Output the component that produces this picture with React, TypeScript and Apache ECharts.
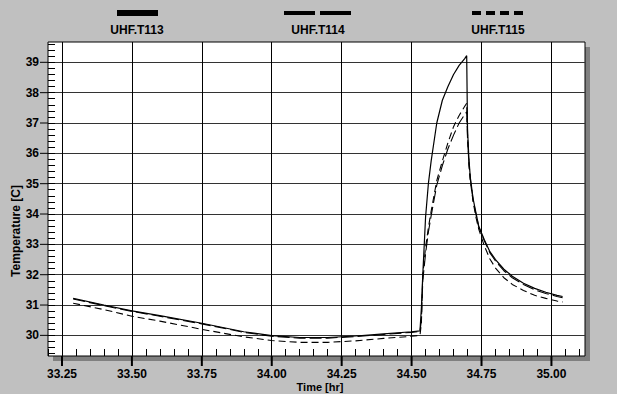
import React, { useEffect, useRef } from "react";
import * as echarts from "echarts";

const times = [33.29, 33.40, 33.50, 33.60, 33.75, 33.90, 34.00, 34.10, 34.20, 34.30, 34.40, 34.50, 34.53, 34.535, 34.54, 34.55, 34.56, 34.57, 34.59, 34.61, 34.63, 34.65, 34.67, 34.69, 34.697, 34.70, 34.705, 34.71, 34.72, 34.73, 34.74, 34.76, 34.78, 34.80, 34.83, 34.86, 34.90, 34.94, 34.98, 35.02, 35.04];
const t113 = [31.22, 31.00, 30.81, 30.65, 30.40, 30.12, 29.99, 29.93, 29.93, 29.98, 30.05, 30.12, 30.15, 30.90, 32.00, 33.90, 35.00, 35.75, 37.00, 37.75, 38.20, 38.60, 38.90, 39.12, 39.22, 36.80, 35.80, 35.20, 34.50, 34.05, 33.60, 33.15, 32.76, 32.50, 32.18, 31.95, 31.72, 31.55, 31.42, 31.32, 31.28];
const t114 = [31.20, 30.98, 30.79, 30.63, 30.38, 30.10, 29.97, 29.91, 29.91, 29.96, 30.03, 30.10, 30.13, 30.50, 31.80, 32.70, 33.40, 33.95, 34.95, 35.60, 36.15, 36.60, 37.00, 37.28, 37.37, 36.50, 35.70, 35.15, 34.45, 34.00, 33.58, 33.12, 32.72, 32.45, 32.13, 31.90, 31.68, 31.50, 31.38, 31.28, 31.24];
const t115 = [31.06, 30.85, 30.63, 30.47, 30.20, 29.95, 29.83, 29.77, 29.77, 29.82, 29.90, 29.97, 30.00, 30.40, 32.00, 32.90, 33.55, 34.10, 35.10, 35.75, 36.35, 36.88, 37.25, 37.55, 37.65, 36.60, 35.60, 35.10, 34.40, 33.90, 33.50, 32.95, 32.52, 32.22, 31.90, 31.68, 31.48, 31.32, 31.22, 31.13, 31.10];

const seriesNames = ["UHF.T113", "UHF.T114", "UHF.T115"];
const xMajorTicks = [33.25, 33.5, 33.75, 34.0, 34.25, 34.5, 34.75, 35.0];
const yMajorTicks = [30, 31, 32, 33, 34, 35, 36, 37, 38, 39];
const xMinorTicks: number[] = [];
for (let i = 0; i <= 38; i++) xMinorTicks.push(+(33.2 + i * 0.05).toFixed(2));
const yMinorTicks: number[] = [];
for (let i = 0; i <= 51; i++) yMinorTicks.push(+(29.4 + i * 0.2).toFixed(1));

const X_MIN = 33.2, X_MAX = 35.12, Y_MIN = 29.32, Y_MAX = 39.67;
const GRID = { left: 48, top: 42, right: 32, bottom: 38 };
const W = 617, H = 394;
const FONT = "'Liberation Sans', Arial, sans-serif";

export default function App() {
  const ref = useRef<HTMLDivElement>(null);
  useEffect(() => {
    document.body.style.margin = "0";
    const chart = echarts.init(ref.current!, null, { renderer: "svg" });
    const mk = (arr: number[]) => times.map((t, i) => [t, arr[i]]);
    const labelStyle = { color: "#000", fontFamily: FONT, fontWeight: "bold" as const, fontSize: 12 };
    const gridW = W - GRID.left - GRID.right;
    const gridH = H - GRID.top - GRID.bottom;
    chart.setOption({
      animation: false,
      backgroundColor: "#c0c0c0",
      grid: { show: true, ...GRID, backgroundColor: "#fff", borderColor: "#000", borderWidth: 1 },
      xAxis: [
        {
          type: "value", min: X_MIN, max: X_MAX, position: "bottom",
          axisLine: { show: false, onZero: false },
          axisTick: { show: false, customValues: xMajorTicks },
          axisLabel: { show: true, customValues: xMajorTicks, margin: 12, formatter: (v: number) => v.toFixed(2), ...labelStyle },
          splitLine: { show: true, lineStyle: { color: "#000", width: 1 } },
        },
        {
          type: "value", min: X_MIN, max: X_MAX, position: "bottom",
          axisLine: { show: false, onZero: false },
          axisTick: { show: true, inside: true, customValues: xMinorTicks, length: 7, lineStyle: { color: "#000", width: 1 } },
          axisLabel: { show: false }, splitLine: { show: false },
        },
      ],
      yAxis: [
        {
          type: "value", min: Y_MIN, max: Y_MAX, position: "left",
          axisLine: { show: false, onZero: false },
          axisTick: { show: false, customValues: yMajorTicks },
          axisLabel: { show: true, customValues: yMajorTicks, margin: 9, ...labelStyle },
          splitLine: { show: true, lineStyle: { color: "#333", width: 1 } },
        },
        {
          type: "value", min: Y_MIN, max: Y_MAX, position: "left",
          axisLine: { show: false, onZero: false },
          axisTick: { show: true, inside: true, customValues: yMinorTicks, length: 7, lineStyle: { color: "#000", width: 1 } },
          axisLabel: { show: false }, splitLine: { show: false },
        },
      ],
      series: [
        { name: seriesNames[0], type: "line", data: mk(t113), symbol: "none", xAxisIndex: 0, yAxisIndex: 0, lineStyle: { color: "#000", width: 1.2, type: "solid" } },
        { name: seriesNames[1], type: "line", data: mk(t114), symbol: "none", xAxisIndex: 0, yAxisIndex: 0, lineStyle: { color: "#000", width: 1.1, type: [12, 4] } },
        { name: seriesNames[2], type: "line", data: mk(t115), symbol: "none", xAxisIndex: 0, yAxisIndex: 0, lineStyle: { color: "#000", width: 1.1, type: [7, 4] } },
        {
          type: "custom", name: "xticks", silent: true, clip: false, z: 5,
          data: xMajorTicks.map((v) => [v, Y_MIN]),
          renderItem: (_p: any, api: any) => {
            const p = api.coord([api.value(0), api.value(1)]);
            return { type: "line", shape: { x1: p[0], y1: p[1], x2: p[0], y2: p[1] + 10 }, style: { stroke: "#000", lineWidth: 2 } };
          },
        },
        {
          type: "custom", name: "yticks", silent: true, clip: false, z: 5,
          data: yMajorTicks.map((v) => [X_MIN, v]),
          renderItem: (_p: any, api: any) => {
            const p = api.coord([api.value(0), api.value(1)]);
            return { type: "line", shape: { x1: p[0] - 8, y1: p[1], x2: p[0], y2: p[1] }, style: { stroke: "#000", lineWidth: 1 } };
          },
        },
      ],
      graphic: [
        { type: "rect", z: -10, shape: { x: GRID.left + 5, y: GRID.top + 5, width: gridW, height: gridH }, style: { fill: "#808080" } },
        { type: "rect", shape: { x: 117, y: 10, width: 41, height: 6 }, style: { fill: "#000" } },
        { type: "text", x: 137, y: 30, style: { text: seriesNames[0], align: "center", verticalAlign: "middle", ...labelStyle, fill: "#000" } },
        { type: "line", shape: { x1: 284, y1: 13, x2: 351, y2: 13 }, style: { stroke: "#000", lineWidth: 4, lineDash: [31, 5] } },
        { type: "text", x: 318, y: 30, style: { text: seriesNames[1], align: "center", verticalAlign: "middle", ...labelStyle, fill: "#000" } },
        { type: "line", shape: { x1: 472, y1: 13, x2: 524, y2: 13 }, style: { stroke: "#000", lineWidth: 4, lineDash: [9, 5] } },
        { type: "text", x: 498, y: 30, style: { text: seriesNames[2], align: "center", verticalAlign: "middle", ...labelStyle, fill: "#000" } },
        { type: "text", x: 320, y: 387, style: { text: "Time [hr]", align: "center", verticalAlign: "middle", ...labelStyle, fontSize: 11, fill: "#000" } },
        { type: "text", x: 16, y: 231, rotation: Math.PI / 2, style: { text: "Temperature [C]", align: "center", verticalAlign: "middle", ...labelStyle, fill: "#000" } },
      ],
    });
    return () => chart.dispose();
  }, []);
  return <div ref={ref} style={{ position: "fixed", left: 0, top: 0, width: W, height: H }} />;
}
